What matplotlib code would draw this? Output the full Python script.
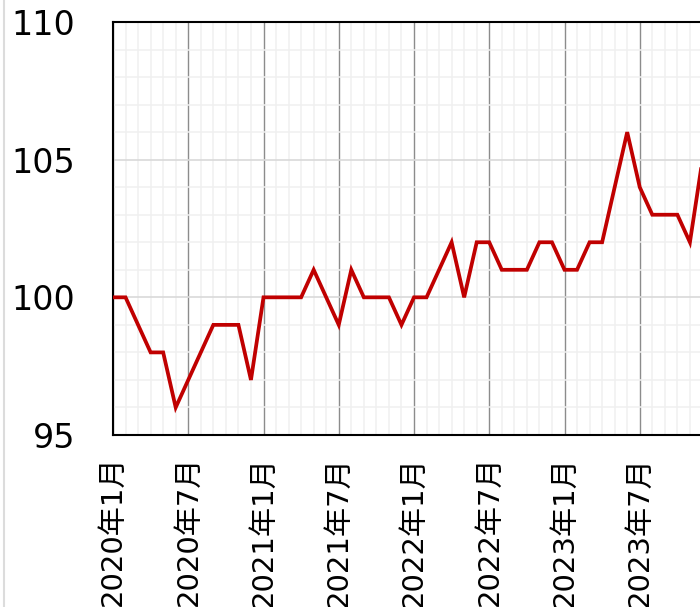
import numpy as np
import matplotlib
matplotlib.use("Agg")
import matplotlib.pyplot as plt
from matplotlib.ticker import MultipleLocator
from matplotlib.lines import Line2D

plt.rcParams['font.family'] = ['DejaVu Sans', 'Noto Sans CJK JP']

# monthly index values, 2020年1月 onwards
values = [100, 100, 99, 98, 98, 96, 97, 98, 99, 99, 99, 97,
          100, 100, 100, 100, 101, 100, 99, 101, 100, 100, 100, 99,
          100, 100, 101, 102, 100, 102, 102, 101, 101, 101, 102, 102,
          101, 101, 102, 102, 104, 106, 104, 103, 103, 103, 102, 105]

tick_pos = [0, 6, 12, 18, 24, 30, 36, 42]
tick_labels = ["2020年1月", "2020年7月", "2021年1月", "2021年7月",
               "2022年1月", "2022年7月", "2023年1月", "2023年7月"]
y_ticks = [95, 100, 105, 110]

fig = plt.figure(figsize=(7, 6.07), dpi=100)
# the axes runs past the right edge of the picture, as in the original crop
ax = fig.add_axes([113 / 700, 172 / 607, 602 / 700, 413 / 607])

x = np.arange(len(values))
ax.plot(x, values, color='#c00000', lw=2.7, solid_joinstyle='miter', zorder=5)

ax.set_xlim(0, 48)
ax.set_ylim(95, 110)

# grid: light minor lines every month / every unit, darker major ones
ax.xaxis.set_minor_locator(MultipleLocator(1))
ax.yaxis.set_minor_locator(MultipleLocator(1))
ax.grid(which='minor', axis='both', color='#f0f0f0', lw=1.1)
ax.grid(which='major', axis='y', color='#d9d9d9', lw=1.2)
ax.grid(which='major', axis='x', color='#8c8c8c', lw=1.0)
ax.set_axisbelow(True)

ax.set_xticks(tick_pos)
ax.set_xticklabels(tick_labels, rotation=90, fontsize=21, va='top')
ax.set_yticks(y_ticks)
ax.set_yticklabels([str(v) for v in y_ticks], fontsize=24)
ax.tick_params(axis='both', which='both', length=0)
ax.tick_params(axis='x', pad=15)
ax.tick_params(axis='y', pad=27)

for s in ax.spines.values():
    s.set_color('black')
    s.set_linewidth(1.5)

# faint border at the left edge of the picture
fig.add_artist(Line2D([3.5 / 700, 3.5 / 700], [0, 1], transform=fig.transFigure,
                      color='#dcdcdc', lw=1.5))

fig.savefig('out.png', dpi=100)
